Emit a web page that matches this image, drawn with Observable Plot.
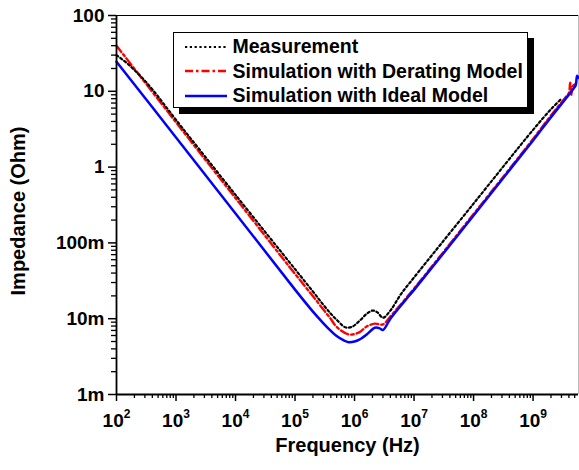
<!DOCTYPE html>
<html><head><meta charset="utf-8">
<script src="https://cdn.jsdelivr.net/npm/d3@7"></script>
<script src="https://cdn.jsdelivr.net/npm/@observablehq/plot@0.6"></script>
<style>
body{margin:0;background:#fff;}
#wrap{position:relative;width:579px;height:470px;font-family:"Liberation Sans",Arial,sans-serif;font-weight:bold;}
#legend{position:absolute;left:173px;top:32px;width:353px;height:72px;border:1.5px solid #000;background:#fff;box-shadow:6px 6px 0 #000;padding-top:1.5px;box-sizing:content-box;}
.row{height:24.5px;display:flex;align-items:center;font-size:19.5px;white-space:nowrap;}
.row svg{margin-left:10.5px;margin-right:6px;flex:none;}
</style></head><body><div id="wrap"></div>
<script>
// ---- data ----
const seriesNames = ["Measurement", "Simulation with Derating Model", "Simulation with Ideal Model"];

const freqMeas = [1e2, 1.5e2, 2e2, 2.6e2, 4e2, 1e3, 1e4, 1e5, 2e5, 3e5, 4e5, 5e5, 7e5, 9e5, 1.2e6, 1.6e6, 2.0e6, 2.4e6, 3.0e6, 4e6, 6e6, 1e7, 1e8, 1e9, 2e9, 2.9e9];
const zMeas    = [30, 23.5, 19, 15.5, 10.6, 4.2, 0.43, 0.045, 0.0228, 0.0152, 0.0116, 0.0097, 0.0077, 0.0078, 0.0093, 0.0116, 0.0128, 0.0122, 0.0103, 0.0128, 0.021, 0.035, 0.33, 3.1, 5.8, 7.8];

const freqDer = [1e2, 1e3, 1e4, 1e5, 2e5, 3e5, 4e5, 5e5, 8e5, 1.2e6, 1.6e6, 2.2e6, 3.0e6, 4e6, 1e7, 1e8, 1e9, 2e9, 3.5e9, 4.0e9, 4.2e9, 4.4e9, 4.6e9, 5.0e9];
const zDer    = [40, 3.9, 0.39, 0.039, 0.0198, 0.0132, 0.0099, 0.0078, 0.0062, 0.0066, 0.0079, 0.0086, 0.0084, 0.0107, 0.025, 0.24, 2.35, 4.8, 8.3, 9.5, 13, 9, 11.5, 12.3];

const freqIdeal = [1e2, 1e3, 1e4, 1e5, 2e5, 3e5, 4e5, 5e5, 6.5e5, 8e5, 1e6, 1.2e6, 1.6e6, 2.2e6, 2.6e6, 3.0e6, 4e6, 7e6, 1e7, 1e8, 4.4e8, 1e9, 2e9, 4.8e9, 5.2e9, 5.5e9, 5.8e9];
const zIdeal    = [24.6, 2.46, 0.245, 0.0242, 0.0124, 0.0087, 0.0069, 0.0059, 0.0052, 0.0049, 0.0050, 0.0053, 0.0062, 0.0076, 0.0075, 0.0071, 0.0100, 0.0172, 0.024, 0.23, 1.0, 2.25, 4.55, 10.9, 12, 16, 15];

const xMajor = [1e2, 1e3, 1e4, 1e5, 1e6, 1e7, 1e8, 1e9];
const xExponents = ["2", "3", "4", "5", "6", "7", "8", "9"];
const yMajor = [1e-3, 1e-2, 1e-1, 1, 10, 100];
const yLabels = ["1m", "10m", "100m", "1", "10", "100"];
const xDomain = [1e2, 5.8e9];
const yDomain = [1e-3, 100];
const xTitle = "Frequency (Hz)";
const yTitle = "Impedance (Ohm)";

// ---- build ----
const toRows = (f, z) => f.map((d, i) => ({f: d, z: z[i]}));
const measRows = toRows(freqMeas, zMeas);
const derRows = toRows(freqDer, zDer);
const idealRows = toRows(freqIdeal, zIdeal);

const xMinor = [];
for (let e = 2; e <= 9; e++) for (let k = 2; k <= 9; k++) { const v = k * Math.pow(10, e); if (v <= xDomain[1]) xMinor.push(v); }
const yMinor = [];
for (let e = -3; e <= 1; e++) for (let k = 2; k <= 9; k++) yMinor.push(k * Math.pow(10, e));

const styles = [
  {stroke: "#000", strokeWidth: 2.2, strokeDasharray: "2.2 2.6"},
  {stroke: "#ff0000", strokeWidth: 2.4, strokeDasharray: "8 3 2.5 3"},
  {stroke: "#0000ff", strokeWidth: 2.5, strokeDasharray: null}
];

const idx = (arr, d) => arr.findIndex(v => Math.abs(Math.log10(v) - Math.log10(d)) < 1e-6);

const plot = Plot.plot({
  width: 579, height: 470,
  marginLeft: 116, marginRight: 1, marginTop: 15, marginBottom: 76,
  x: {type: "log", domain: xDomain, label: null},
  y: {type: "log", domain: yDomain, label: null},
  style: {fontFamily: '"Liberation Sans", Arial, sans-serif', fontWeight: "bold", fontSize: "19px", color: "#000", background: "#fff", overflow: "visible"},
  marks: [
    Plot.ruleY([yDomain[1]], {stroke: "#000", strokeWidth: 1}),
    Plot.ruleX([xDomain[1]], {stroke: "#bbb", strokeWidth: 1}),
    Plot.line(derRows, {x: "f", y: "z", curve: "catmull-rom", ...styles[1]}),
    Plot.line(idealRows, {x: "f", y: "z", curve: "catmull-rom", ...styles[2]}),
    Plot.line(measRows, {x: "f", y: "z", curve: "catmull-rom", ...styles[0]}),
    Plot.axisY(yMinor, {tickSize: 5, tickFormat: () => "", strokeWidth: 1.3}),
    Plot.axisY(yMajor, {tickSize: 8, tickPadding: 4, strokeWidth: 1.5, fontSize: 19, tickFormat: d => yLabels[idx(yMajor, d)]}),
    Plot.axisX(xMinor, {tickSize: 4, tickFormat: () => "", strokeWidth: 1.3}),
    Plot.axisX(xMajor, {tickSize: 7, tickPadding: 12, strokeWidth: 1.5, fontSize: 19, tickFormat: d => "10^" + xExponents[idx(xMajor, d)]}),
    Plot.ruleX([xDomain[0]], {stroke: "#000", strokeWidth: 1.8}),
    Plot.ruleY([yDomain[0]], {stroke: "#000", strokeWidth: 1.8}),
    Plot.text([xTitle], {frameAnchor: "bottom", dy: 57.6, fontSize: 20, fontWeight: "bold"}),
    Plot.text([yTitle], {frameAnchor: "left", textAnchor: "middle", rotate: -90, dx: -98, dy: 6, fontSize: 20, fontWeight: "bold"})
  ]
});

// superscript exponents on x tick labels
plot.querySelectorAll("text").forEach(t => {
  const m = /^10\^(\d+)$/.exec(t.textContent);
  if (m) {
    t.textContent = "10";
    const ts = document.createElementNS("http://www.w3.org/2000/svg", "tspan");
    ts.setAttribute("dy", "-9.5");
    ts.setAttribute("font-size", "12");
    ts.textContent = m[1];
    t.appendChild(ts);
  }
});

const wrap = document.getElementById("wrap");
wrap.appendChild(plot);

// legend
const legend = document.createElement("div");
legend.id = "legend";
seriesNames.forEach((name, i) => {
  const row = document.createElement("div");
  row.className = "row";
  const s = styles[i];
  row.innerHTML = `<svg width="42" height="6"><line x1="0" x2="42" y1="3" y2="3" stroke="${s.stroke}" stroke-width="${s.strokeWidth}" ${s.strokeDasharray ? `stroke-dasharray="${s.strokeDasharray}"` : ""}/></svg><span>${name}</span>`;
  legend.appendChild(row);
});
wrap.appendChild(legend);
</script>
</body></html>
